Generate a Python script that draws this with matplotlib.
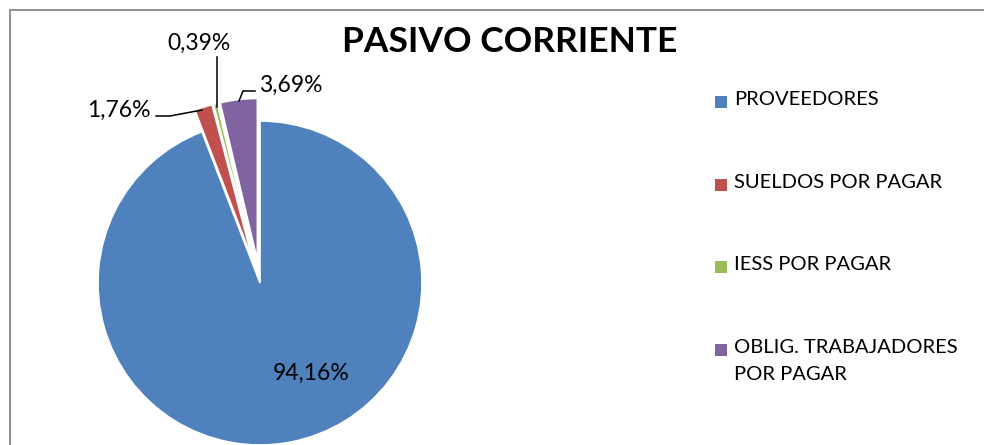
import matplotlib.pyplot as plt
from matplotlib.patches import Rectangle

plt.rcParams['font.family'] = ['Lato', 'DejaVu Sans']

# data
categorias = ['PROVEEDORES', 'SUELDOS POR PAGAR', 'IESS POR PAGAR',
              'OBLIG. TRABAJADORES\nPOR PAGAR']
porcentajes = [94.16, 1.76, 0.39, 3.69]
etiquetas = ['94,16%', '1,76%', '0,39%', '3,69%']
colores = ['#4F81BD', '#C0504D', '#9BBB59', '#8064A2']
separacion = [0, 0.14, 0.14, 0.14]

W, H = 984, 445
fig = plt.figure(figsize=(W / 100, H / 100), dpi=100)
ax = fig.add_axes([0, 0, 1, 1])


# y in pixel coords measured from top
def py(y):
    return H - y


cx, cy, r = 260, py(283), 162
wedges, _ = ax.pie(porcentajes, colors=colores,
                   explode=[s * r for s in separacion],
                   startangle=90, counterclock=False, center=(cx, cy),
                   radius=r, frame=True,
                   wedgeprops=dict(edgecolor='white', linewidth=1.2))
ax.set_xlim(0, W)
ax.set_ylim(0, H)
ax.set_aspect('equal')
ax.axis('off')

fs = 16.5
# etiquetas de porcentaje
ax.text(311, py(373), etiquetas[0], fontsize=fs, ha='center', va='center')
ax.text(151, py(110), etiquetas[1], fontsize=fs, ha='right', va='center')
ax.plot([156, 170, 202], [py(116), py(116), py(110)], color='black', lw=1.1)
ax.text(199, py(43), etiquetas[2], fontsize=fs, ha='center', va='center')
ax.plot([217, 217], [py(57), py(107)], color='black', lw=1.1)
ax.text(259, py(85), etiquetas[3], fontsize=fs, ha='left', va='center')
ax.plot([255, 243, 239], [py(91), py(91), py(101)], color='black', lw=1.1)

# titulo
ax.text(510, py(42), 'PASIVO CORRIENTE', fontsize=25.5, fontweight='bold',
        ha='center', va='center')

# leyenda
for i, (cat, col) in enumerate(zip(categorias, colores)):
    y0 = 102 + i * 82.7
    ax.add_patch(Rectangle((715, py(y0) - 6), 12, 12, facecolor=col,
                           edgecolor='none'))
    ax.text(734, py(y0 - 11), cat, fontsize=14.5, ha='left', va='top',
            linespacing=1.7)

# borde
ax.plot([9.5, 9.5, W], [0, py(9.5), py(9.5)], color='#868686', lw=1.3,
        solid_joinstyle='miter')

fig.savefig('out.png', dpi=100)
